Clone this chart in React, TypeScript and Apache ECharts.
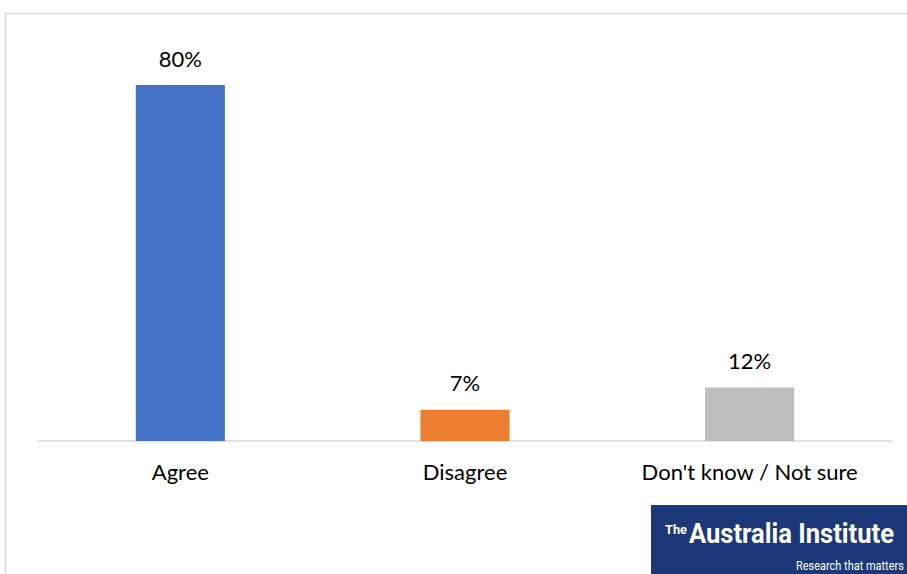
import React, { useEffect, useRef } from "react";
import * as echarts from "echarts";

const categories = ["Agree", "Disagree", "Don't know / Not sure"];
const values = [80, 7, 12];
const barColors = ["#4472C4", "#ED7D31", "#BFBFBF"];

function fitScale(text: string, font: string, target: number): number {
  const c = document.createElement("canvas").getContext("2d");
  if (!c) return 1;
  c.font = font;
  const w = c.measureText(text).width;
  return w > 0 ? target / w : 1;
}

export default function App() {
  const ref = useRef<HTMLDivElement>(null);
  useEffect(() => {
    if (!ref.current) return;
    const chart = echarts.init(ref.current, undefined, { renderer: "svg" });
    const bigFont = "bold 28px Roboto, sans-serif";
    const smallFont = "12px Roboto, sans-serif";
    const theFont = "bold 13px Roboto, sans-serif";
    const sBig = fitScale("Australia Institute", bigFont, 205);
    const sSmall = fitScale("Research that matters", smallFont, 108);
    const sThe = fitScale("The", theFont, 22);
    chart.setOption({
      animation: false,
      backgroundColor: "#ffffff",
      grid: { left: 38, right: 15, top: 40.5, bottom: 133, containLabel: false },
      xAxis: {
        type: "category",
        data: categories,
        axisLine: { show: true, lineStyle: { color: "#d9d9d9", width: 1.5 } },
        axisTick: { show: false },
        axisLabel: {
          color: "#000000",
          fontFamily: "Lato",
          fontSize: 22,
          margin: 19,
        },
      },
      yAxis: {
        type: "value",
        min: 0,
        max: 90,
        show: false,
        splitLine: { show: false },
      },
      series: [
        {
          type: "bar",
          barWidth: "31.3%",
          data: values.map((v, i) => ({ value: v, itemStyle: { color: barColors[i] } })),
          label: {
            show: true,
            position: "top",
            distance: 16,
            formatter: "{c}%",
            color: "#000000",
            fontFamily: "Lato",
            fontSize: 22,
          },
        },
      ],
      graphic: [
        {
          type: "rect",
          shape: { x: 5.5, y: 13.5, width: 1000, height: 1000 },
          style: { fill: "none", stroke: "#d9d9d9", lineWidth: 1.5 },
          silent: true,
        },
        {
          type: "group",
          left: 651,
          top: 505,
          children: [
            {
              type: "rect",
              shape: { x: 0, y: 0, width: 256, height: 69 },
              style: { fill: "#1d3878" },
            },
            {
              type: "text",
              x: 14,
              y: 18,
              scaleX: sThe,
              style: { text: "The", fill: "#ffffff", font: theFont },
            },
            {
              type: "text",
              x: 38,
              y: 15,
              scaleX: sBig,
              style: { text: "Australia Institute", fill: "#ffffff", font: bigFont },
            },
            {
              type: "text",
              x: 145,
              y: 55,
              scaleX: sSmall,
              style: { text: "Research that matters", fill: "#ffffff", font: smallFont },
            },
          ],
        },
      ],
    });
    return () => chart.dispose();
  }, []);
  return (
    <div
      ref={ref}
      style={{ position: "fixed", left: 0, top: 0, width: 907, height: 574 }}
    />
  );
}
